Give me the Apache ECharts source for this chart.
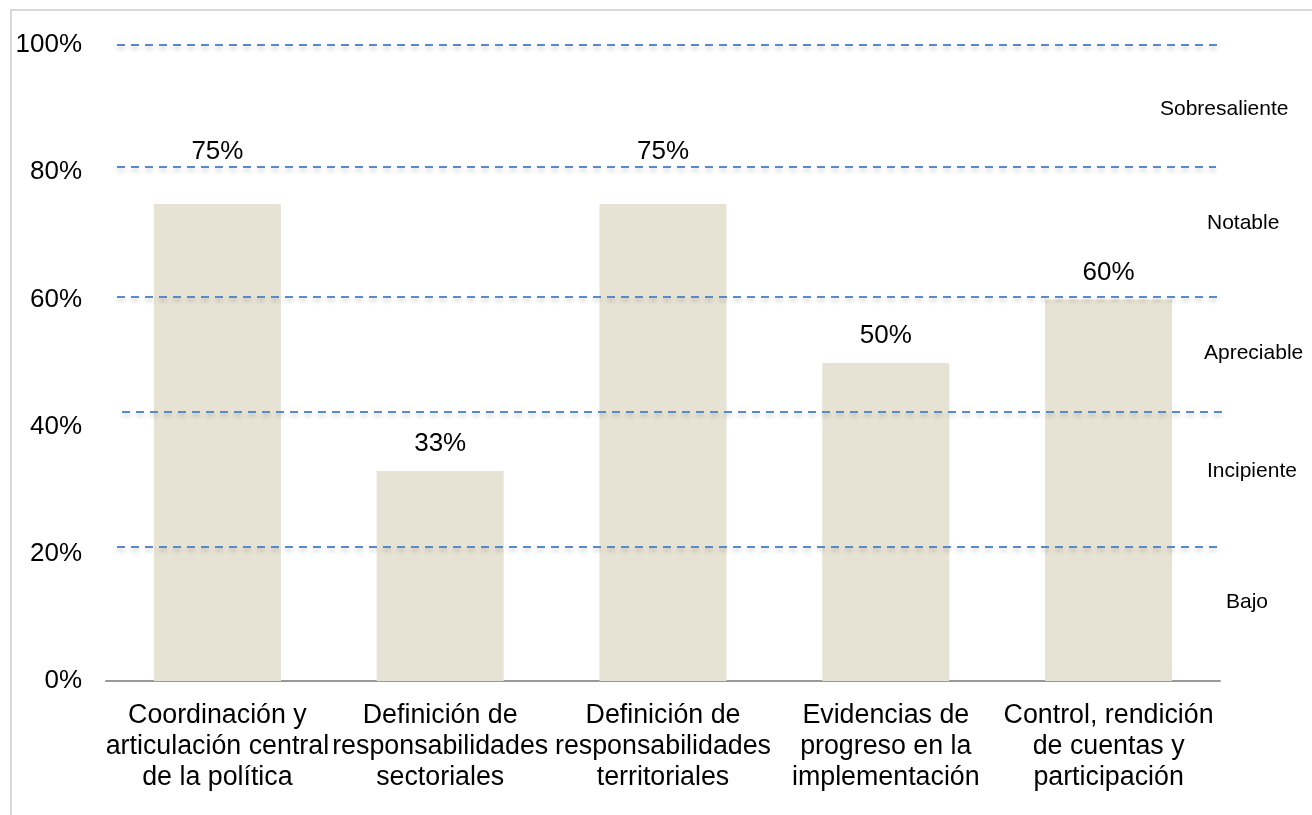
<!DOCTYPE html>
<html>
<head>
<meta charset="utf-8">
<script src="https://cdn.jsdelivr.net/npm/echarts@6/dist/echarts.min.js"></script>
<style>html,body{margin:0;padding:0;background:#fff}#c{width:1312px;height:815px}</style>
</head>
<body>
<div id="c"></div>
<script>
var categories = [
  "Coordinación y\narticulación central\nde la política",
  "Definición de\nresponsabilidades\nsectoriales",
  "Definición de\nresponsabilidades\nterritoriales",
  "Evidencias de\nprogreso en la\nimplementación",
  "Control, rendición\nde cuentas y\nparticipación"
];
var values = [75, 33, 75, 50, 60];
var yTicks = [0, 20, 40, 60, 80, 100];
var thresholdLines = [100, 80.8, 60.4, 42.3, 21.1];
var levelNames = ["Sobresaliente", "Notable", "Apreciable", "Incipiente", "Bajo"];

// layout-only settings
var labelDistances = [39, 14, 39, 14, 14];
var lineSpan = [[117, 1217], [117, 1216], [117, 1217], [122, 1222], [117, 1218]];
var levelPos = [[1160, 108], [1207, 222], [1204, 352], [1207, 470], [1226, 601]];

var chart = echarts.init(document.getElementById('c'), null, {renderer: 'canvas'});
var font = "'Liberation Sans', Arial, Helvetica, sans-serif";

var graphics = [{
  type: 'rect', silent: true, z: -1,
  shape: {x: 11, y: 10, width: 1400, height: 900},
  style: {fill: 'none', stroke: '#d9d9d9', lineWidth: 2}
}];
levelNames.forEach(function (n, i) {
  graphics.push({
    type: 'text', left: levelPos[i][0], top: levelPos[i][1] - 9,
    style: {text: n, font: "21px " + font, fill: '#000'}
  });
});

chart.setOption({
  animation: false,
  backgroundColor: '#fff',
  grid: {left: 106, right: 92, top: 45, bottom: 134, containLabel: false},
  xAxis: {
    type: 'category',
    data: categories,
    axisLine: {show: true, lineStyle: {color: '#999', width: 2}},
    axisTick: {show: false},
    axisLabel: {interval: 0, color: '#000', fontSize: 26.8, fontFamily: font, lineHeight: 31, margin: 19}
  },
  yAxis: {
    type: 'value', min: 0, max: 100, interval: 20,
    axisLine: {show: false},
    axisTick: {show: false},
    splitLine: {show: false},
    axisLabel: {formatter: '{value}%', color: '#000', fontSize: 26, fontFamily: font, margin: 24}
  },
  graphic: graphics,
  series: [{
    type: 'bar',
    barWidth: '57%',
    itemStyle: {color: '#e6e2d4'},
    data: values.map(function (v, i) {
      return {value: v, label: {distance: labelDistances[i]}};
    }),
    label: {show: true, position: 'top', formatter: '{c}%', color: '#000', fontSize: 26, fontFamily: font},
    markLine: {
      silent: true,
      symbol: 'none',
      label: {show: false},
      lineStyle: {color: '#5a89c8', width: 2, type: [8, 6], shadowColor: 'rgba(0,0,0,0.22)', shadowBlur: 4, shadowOffsetY: 3},
      data: thresholdLines.map(function (v, i) {
        return [{yAxis: v, x: lineSpan[i][0]}, {yAxis: v, x: lineSpan[i][1]}];
      })
    }
  }]
});
</script>
</body>
</html>
